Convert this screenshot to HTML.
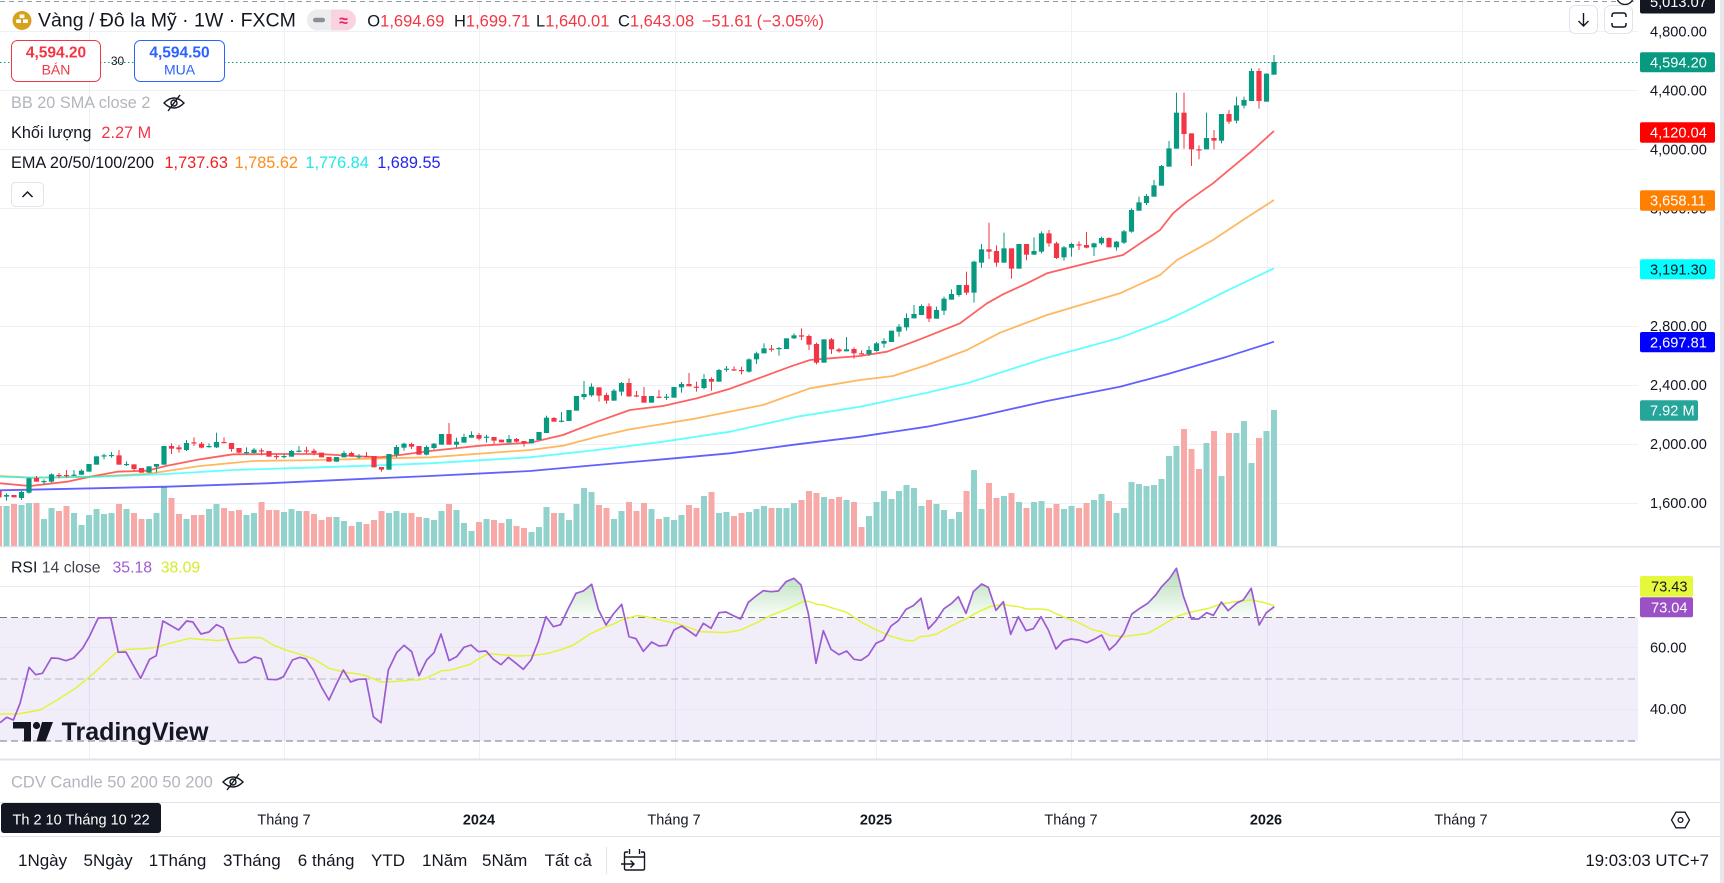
<!DOCTYPE html>
<html><head><meta charset="utf-8">
<style>
html,body{margin:0;padding:0;background:#fff;}
body{width:1724px;height:883px;overflow:hidden;}
svg{display:block;font-family:"Liberation Sans",Arial,sans-serif;}
</style></head><body>
<svg id="s" width="1724" height="883" viewBox="0 0 1724 883" xmlns="http://www.w3.org/2000/svg">
<defs>
<linearGradient id="gf" x1="0" y1="565" x2="0" y2="617" gradientUnits="userSpaceOnUse">
<stop offset="0" stop-color="#4caf50" stop-opacity="0.45"/>
<stop offset="1" stop-color="#4caf50" stop-opacity="0.03"/>
</linearGradient>
<clipPath id="c70"><rect x="0" y="540" width="1638" height="77.5"/></clipPath>
<clipPath id="cm"><rect x="0" y="0" width="1638" height="546"/></clipPath>
</defs>
<rect width="1724" height="883" fill="#fff"/>

<!-- grid -->
<g stroke="#eef0f5" stroke-width="1">
<line x1="0" y1="31.5" x2="1638" y2="31.5"/><line x1="0" y1="90.5" x2="1638" y2="90.5"/>
<line x1="0" y1="149.5" x2="1638" y2="149.5"/><line x1="0" y1="208.5" x2="1638" y2="208.5"/>
<line x1="0" y1="267.5" x2="1638" y2="267.5"/><line x1="0" y1="326.5" x2="1638" y2="326.5"/>
<line x1="0" y1="385.5" x2="1638" y2="385.5"/><line x1="0" y1="444.5" x2="1638" y2="444.5"/>
<line x1="0" y1="503.5" x2="1638" y2="503.5"/>
<line x1="89.5" y1="0" x2="89.5" y2="759"/><line x1="284.5" y1="0" x2="284.5" y2="759"/>
<line x1="479.5" y1="0" x2="479.5" y2="759"/><line x1="675.5" y1="0" x2="675.5" y2="759"/>
<line x1="876.5" y1="0" x2="876.5" y2="759"/><line x1="1071.5" y1="0" x2="1071.5" y2="759"/>
<line x1="1267.5" y1="0" x2="1267.5" y2="759"/><line x1="1462.5" y1="0" x2="1462.5" y2="759"/>
</g>
<!-- top dashed line -->
<line x1="0" y1="1.5" x2="1638" y2="1.5" stroke="#9598a1" stroke-width="1" stroke-dasharray="5 4"/>

<g id="vol" clip-path="url(#cm)"></g>
<g id="ema" clip-path="url(#cm)" fill="none"></g>
<g id="cdl" clip-path="url(#cm)"></g>
<line x1="0" y1="62.5" x2="1638" y2="62.5" stroke="#089981" stroke-width="1" stroke-dasharray="1.5 2.5"/>

<!-- RSI pane -->
<rect x="0" y="617.5" width="1638" height="123.5" fill="#7e57c2" fill-opacity="0.1"/>
<g stroke="#eae7f2" stroke-width="1">
<line x1="0" y1="586.5" x2="1638" y2="586.5"/><line x1="0" y1="647.5" x2="1638" y2="647.5"/><line x1="0" y1="709.5" x2="1638" y2="709.5"/>
</g>
<line x1="0" y1="617.5" x2="1638" y2="617.5" stroke="#787b86" stroke-dasharray="7 4"/>
<line x1="0" y1="679" x2="1638" y2="679" stroke="#b8bac2" stroke-dasharray="7 4"/>
<line x1="0" y1="741" x2="1638" y2="741" stroke="#787b86" stroke-dasharray="7 4"/>
<g id="rsi" fill="none"></g>

<!-- separators -->
<rect x="0" y="546" width="1720" height="1.5" fill="#e0e3eb"/>
<rect x="0" y="758.5" width="1720" height="2" fill="#e0e3eb"/>
<rect x="0" y="802" width="1720" height="1" fill="#e0e3eb"/>
<rect x="0" y="836" width="1720" height="1" fill="#e0e3eb"/>
<rect x="1720" y="0" width="4" height="883" fill="#e6e8ec"/>

<!-- header -->
<circle cx="22" cy="20.5" r="9.5" fill="#d6a21e"/>
<rect x="19.6" y="14.5" width="4.8" height="3.6" fill="#fff"/>
<rect x="16.2" y="19.4" width="4.8" height="3.6" fill="#fff"/>
<rect x="23" y="19.4" width="4.8" height="3.6" fill="#fff"/>
<text x="38" y="26.7" font-size="19.5" fill="#131722">Vàng / Đô la Mỹ · 1W · FXCM</text>
<rect x="307" y="9.5" width="49" height="21" rx="10.5" fill="#f9d3df"/>
<path d="M331 9.5 H317.5 A10.5 10.5 0 0 0 317.5 30.5 H331 Z" fill="#ececee"/>
<rect x="313" y="17.8" width="12" height="4.5" rx="2.2" fill="#8c8f99"/>
<text x="343.5" y="26" font-size="16" fill="#e0245e" text-anchor="middle" font-weight="bold">≈</text>
<g font-size="16.5">
<text x="367.3" y="26.7" fill="#131722">O<tspan fill="#f23645">1,694.69</tspan></text>
<text x="454" y="26.7" fill="#131722">H<tspan fill="#f23645">1,699.71</tspan></text>
<text x="536" y="26.7" fill="#131722">L<tspan fill="#f23645">1,640.01</tspan></text>
<text x="618" y="26.7" fill="#131722">C<tspan fill="#f23645">1,643.08</tspan></text>
<text x="701.8" y="26.7" fill="#f23645">−51.61</text>
<text x="756.6" y="26.7" fill="#f23645">(−3.05%)</text>
</g>

<!-- bid/ask -->
<rect x="11.5" y="40.5" width="89" height="41" rx="6" fill="#fff" stroke="#f23645"/>
<text x="56" y="57.5" font-size="15.5" font-weight="bold" fill="#f23645" text-anchor="middle">4,594.20</text>
<text x="56" y="74.5" font-size="14" fill="#f23645" text-anchor="middle">BÁN</text>
<text x="117.5" y="65" font-size="12" fill="#131722" text-anchor="middle">30</text>
<rect x="134.5" y="40.5" width="90" height="41" rx="6" fill="#fff" stroke="#2962ff"/>
<text x="179.5" y="57.5" font-size="15.5" font-weight="bold" fill="#2962ff" text-anchor="middle">4,594.50</text>
<text x="179.5" y="74.5" font-size="14" fill="#2962ff" text-anchor="middle">MUA</text>

<!-- legends -->
<g font-size="16.3">
<text x="11" y="108" fill="#b2b5be">BB 20 SMA close 2</text>
<text x="11" y="138" fill="#131722">Khối lượng</text>
<text x="101.4" y="138" fill="#f23645">2.27 M</text>
<text x="11" y="168" fill="#131722">EMA 20/50/100/200</text>
<text x="164.5" y="168" fill="#f21e1e">1,737.63</text>
<text x="234.6" y="168" fill="#ff8c1a">1,785.62</text>
<text x="305.4" y="168" fill="#1ee8e8">1,776.84</text>
<text x="377.2" y="168" fill="#2424f0">1,689.55</text>
</g>
<g fill="none" stroke="#131722" stroke-width="1.4">
<path d="M164 103 Q174 93 184 103 Q174 113 164 103 Z"/><circle cx="174" cy="103" r="3"/><line x1="168" y1="111" x2="180" y2="95"/>
</g>
<rect x="11.5" y="182.5" width="32" height="24" rx="4" fill="#fff" stroke="#e0e3eb"/>
<path d="M22.5 197 L27.5 192 L32.5 197" fill="none" stroke="#131722" stroke-width="1.5"/>

<!-- top right buttons -->
<circle cx="1625" cy="-4" r="8.5" fill="#fff" stroke="#131722" stroke-width="1.3"/>
<rect x="1569.5" y="5.5" width="28" height="28" rx="6" fill="#fff" stroke="#e0e3eb"/>
<path d="M1583.5 13 V26 M1578.5 21 L1583.5 26 L1588.5 21" fill="none" stroke="#131722" stroke-width="1.4"/>
<rect x="1604.5" y="5.5" width="28" height="28" rx="6" fill="#fff" stroke="#e0e3eb"/>
<path d="M1612 17 V15.5 Q1612 13 1614.5 13 H1623.5 Q1626 13 1626 15.5 V17 M1612 23 V24.5 Q1612 27 1614.5 27 H1623.5 Q1626 27 1626 24.5 V23" fill="none" stroke="#131722" stroke-width="1.5"/>

<!-- price axis -->
<g font-size="14.6" fill="#131722">
<text x="1650" y="36.7">4,800.00</text>
<text x="1650" y="95.6">4,400.00</text>
<text x="1650" y="154.5">4,000.00</text>
<text x="1650" y="213.4">3,600.00</text>
<text x="1650" y="272.3">3,200.00</text>
<text x="1650" y="331.2">2,800.00</text>
<text x="1650" y="390.1">2,400.00</text>
<text x="1650" y="449">2,000.00</text>
<text x="1650" y="507.9">1,600.00</text>
<text x="1650" y="652.6">60.00</text>
<text x="1650" y="714.2">40.00</text>
</g>
<g font-size="14.6">
<rect x="1640" y="-10" width="75" height="23.5" rx="2" fill="#131722"/><text x="1650" y="7" fill="#fff">5,013.07</text>
<rect x="1640" y="52.3" width="75" height="20" rx="2" fill="#089981"/><text x="1650" y="67.5" fill="#fff">4,594.20</text>
<rect x="1640" y="122.3" width="75" height="20.4" rx="2" fill="#ff0000"/><text x="1650" y="137.6" fill="#fff">4,120.04</text>
<rect x="1640" y="190.3" width="75" height="20.4" rx="2" fill="#ff8000"/><text x="1650" y="205.6" fill="#fff">3,658.11</text>
<rect x="1640" y="259.3" width="75" height="20" rx="2" fill="#00ffff"/><text x="1650" y="274.5" fill="#131722">3,191.30</text>
<rect x="1640" y="332" width="75" height="20.3" rx="2" fill="#0000ff"/><text x="1650" y="347.3" fill="#fff">2,697.81</text>
<rect x="1640" y="400.3" width="58" height="20.4" rx="2" fill="#26a69a"/><text x="1650" y="415.6" fill="#fff">7.92 M</text>
<rect x="1640" y="576" width="53" height="20.7" rx="2" fill="#e6f83c"/><text x="1651" y="591.5" fill="#131722">73.43</text>
<rect x="1640" y="597.3" width="53" height="20" rx="2" fill="#9c50c6"/><text x="1651" y="612.4" fill="#fff">73.04</text>
</g>

<!-- RSI legend -->
<g font-size="15.8">
<text x="11" y="572.3" fill="#131722">RSI <tspan fill="#434651">14 close</tspan></text>
<text x="112.5" y="572.3" fill="#9c5bd1">35.18</text>
<text x="160.7" y="572.3" fill="#d8ea2a">38.09</text>
</g>
<!-- TradingView logo -->
<g fill="#131722">
<path d="M13 722 H31 V741.5 H24 V728.5 H13 Z"/>
<circle cx="36.5" cy="725.5" r="3.6"/>
<path d="M42 722 H53 L45.5 741.5 H36.5 Z"/>
<text x="61.6" y="740" font-size="25" font-weight="bold">TradingView</text>
</g>

<!-- CDV -->
<text x="11" y="787.3" font-size="16.5" fill="#b2b5be">CDV Candle 50 200 50 200</text>
<g fill="none" stroke="#131722" stroke-width="1.4">
<path d="M223 782 Q233 772 243 782 Q233 792 223 782 Z"/><circle cx="233" cy="782" r="3"/><line x1="227" y1="790" x2="239" y2="774"/>
</g>

<!-- time axis -->
<rect x="1" y="803" width="160" height="30" rx="3" fill="#131722"/>
<text x="12.5" y="824.5" font-size="14.5" fill="#fff">Th 2 10 Tháng 10 '22</text>
<g font-size="14.5" fill="#131722" text-anchor="middle">
<text x="284" y="824.5">Tháng 7</text>
<text x="479" y="824.5" font-weight="bold">2024</text>
<text x="674" y="824.5">Tháng 7</text>
<text x="876" y="824.5" font-weight="bold">2025</text>
<text x="1071" y="824.5">Tháng 7</text>
<text x="1266" y="824.5" font-weight="bold">2026</text>
<text x="1461" y="824.5">Tháng 7</text>
</g>
<polygon points="1689.5,820 1685,827.8 1676,827.8 1671.5,820 1676,812.2 1685,812.2" fill="none" stroke="#131722" stroke-width="1.3"/>
<circle cx="1680.5" cy="820" r="2.4" fill="none" stroke="#131722" stroke-width="1.3"/>

<!-- toolbar -->
<g font-size="17" fill="#131722">
<text x="18" y="866">1Ngày</text>
<text x="83.5" y="866">5Ngày</text>
<text x="148.7" y="866">1Tháng</text>
<text x="223" y="866">3Tháng</text>
<text x="297.8" y="866">6 tháng</text>
<text x="371" y="866">YTD</text>
<text x="422" y="866">1Năm</text>
<text x="482" y="866">5Năm</text>
<text x="544.6" y="866">Tất cả</text>
<text x="1709" y="866" text-anchor="end" font-size="16.8">19:03:03 UTC+7</text>
</g>
<line x1="606.5" y1="847" x2="606.5" y2="874" stroke="#e0e3eb"/>
<g fill="none" stroke="#131722" stroke-width="1.4">
<path d="M628 852 H626 Q624.5 852 624.5 853.5 V868.5 Q624.5 870 626 870 H643 Q644.5 870 644.5 868.5 V853.5 Q644.5 852 643 852 H641"/>
<line x1="624.5" y1="857" x2="644.5" y2="857"/>
<line x1="629.5" y1="849" x2="629.5" y2="854"/><line x1="639.5" y1="849" x2="639.5" y2="854"/>
<path d="M621 864 H634 M630.5 860.5 L634 864 L630.5 867.5"/>
</g>
</svg>
<script>
(function(){
var NS="http://www.w3.org/2000/svg";
function mk(tag,a,p){var e=document.createElementNS(NS,tag);for(var k in a)e.setAttribute(k,a[k]);p.appendChild(e);return e;}
var C5=[[0,333,352,333,352],[1,345,350,340,362],[0,345,352,345,352],[1,336,354,332,360],[1,295,338,293,341],[0,294,305,288,305],[1,303,303,298,314],[1,283,305,280,308],[0,285,285,279,295],[0,285,285,270,293],[1,284,284,270,288],[1,272,284,268,285],[1,252,275,252,275],[1,229,254,229,254],[1,226,226,221,238],[1,225,225,216,233],[0,226,254,210,254],[1,252,252,244,258],[0,253,267,253,272],[0,264,278,264,278],[1,259,278,259,278],[1,252,260,252,278],[1,198,254,198,254],[0,198,206,190,222],[0,202,208,195,218],[1,189,210,180,213],[0,187,187,172,198],[0,191,203,186,205],[1,198,198,190,203],[1,186,202,158,204],[0,186,186,172,190],[0,189,207,189,215],[0,204,218,204,220],[1,216,216,202,224],[1,209,219,204,220],[0,211,211,205,226],[0,213,230,213,230],[0,228,228,222,238],[1,228,228,222,235],[1,213,230,210,230],[1,212,212,198,217],[0,211,211,200,220],[0,212,219,206,226],[0,218,232,218,232],[0,231,245,231,245],[1,231,245,231,245],[1,219,232,212,232],[0,219,229,215,230],[1,229,229,222,236],[0,228,228,216,230],[0,228,262,228,262],[0,261,269,261,275],[1,222,269,222,269],[1,201,224,195,232],[1,191,203,188,212],[0,192,200,188,207],[0,198,224,198,224],[1,201,224,196,226]];
var C6=[[1,521,534,519,538],[1,492,524,492,524],[0,492,524,459,524],[1,515,524,503,532],[1,501,518,491,518],[1,495,503,484,503],[0,495,506,489,511],[1,500,500,494,518],[0,501,512,501,522],[0,509,517,509,517],[1,507,518,495,518],[0,507,515,504,517],[0,513,520,513,530],[1,507,520,507,520],[1,486,510,486,510],[1,443,489,437,489],[0,444,455,441,455],[1,452,452,426,457],[1,420,453,420,453],[1,378,422,378,422],[1,372,381,333,389],[1,350,376,340,380],[0,352,377,352,395],[0,375,392,368,401],[1,362,392,357,392],[1,339,365,336,377],[0,339,379,325,381],[0,376,376,363,381],[0,378,398,351,398],[1,378,398,378,398],[0,380,380,360,385],[1,380,380,372,390],[1,351,383,351,383],[1,342,352,336,368],[0,342,349,309,349],[0,350,350,335,365],[1,327,354,312,358],[0,327,335,322,362],[1,300,335,297,335],[1,296,296,288,305],[0,298,298,289,303],[0,300,300,290,313],[1,268,305,265,308],[1,250,268,245,282],[1,235,250,220,250],[0,236,236,225,245],[1,234,234,231,257],[1,205,237,205,237],[1,196,205,190,207],[0,196,200,175,210],[0,198,224,193,240],[0,222,278,218,283],[1,208,278,208,278],[0,208,238,204,252],[0,238,244,234,248],[1,238,244,201,244],[0,237,250,232,266],[0,250,250,241,253]];
var C7=[[1,930,942,918,948],[1,910,933,906,935],[1,903,911,895,923],[1,872,906,872,906],[1,860,875,852,890],[1,834,862,820,872],[1,822,835,795,835],[1,798,825,793,825],[0,799,836,790,846],[1,810,836,800,836],[1,776,812,770,825],[1,762,779,748,779],[1,735,765,735,770],[0,735,758,695,765],[1,665,758,662,788],[1,628,668,612,683],[0,628,635,548,657],[0,633,668,616,680],[1,625,668,578,668],[0,625,686,625,716],[1,612,686,612,686],[0,612,644,612,661],[1,633,644,592,644],[1,580,635,574,640],[0,580,610,570,620],[0,610,654,605,657],[1,622,652,618,662],[1,612,623,608,650],[0,613,613,604,630],[0,615,623,576,625],[1,610,622,608,648],[1,594,610,590,615],[0,594,622,592,622],[1,605,622,603,632],[1,574,608,570,612],[1,510,575,505,578],[1,487,512,470,512],[1,468,489,462,495],[1,436,470,420,470],[1,378,437,375,437],[1,325,380,303,380],[1,218,326,158,326],[0,218,282,158,326],[0,280,328,280,378],[0,328,328,316,358],[1,294,328,218,328],[0,294,302,270,328],[1,222,302,222,310],[0,222,245,210,252],[1,196,242,170,250],[1,180,197,170,205],[1,93,183,85,183],[0,93,183,85,206],[1,101,185,100,185],[1,66,104,45,104]];
var V5=[378,378,372,375,369,369,417,384,393,378,399,435,405,387,402,399,372,387,399,417,417,399,321,354,402,417,405,405,387,372,384,393,390,405,399,366,390,390,396,387,393,393,402,420,411,411,423,438,426,432,420,393,399,393,399,399,411,414];
var V6=[750,723,702,720,759,783,756,747,750,759,747,768,774,786,771,711,729,729,750,702,654,666,705,714,747,723,696,723,699,717,747,741,750,735,705,714,678,666,729,726,738,729,726,717,708,714,714,714,699,690,663,669,681,687,681,690,696,771];
var V7=[1428,1386,1353,1377,1353,1335,1344,1398,1380,1392,1410,1437,1416,1353,1290,1407,1329,1374,1368,1359,1386,1404,1386,1383,1404,1392,1407,1398,1404,1389,1380,1362,1383,1419,1404,1326,1332,1338,1335,1317,1248,1218,1167,1227,1287,1209,1173,1308,1179,1179,1143,1269,1194,1173,1110];
var cd=[],vv=[];
function addC(arr,off){arr.forEach(function(c){cd.push([c[0],off+c[1]/3,off+c[2]/3,off+c[3]/3,off+c[4]/3]);});}
addC(C5,380);addC(C6,270);addC(C7,40);
V5.forEach(function(v){vv.push(380+v/3);});V6.forEach(function(v){vv.push(270+v/3);});V7.forEach(function(v){vv.push(40+v/3);});
var gV=document.getElementById('vol'),gC=document.getElementById('cdl');
for(var i=0;i<cd.length;i++){
 var x=-1+7.5*i,c=cd[i];
 var up=c[0]===1;
 if(i<vv.length){var t=vv[i];mk('rect',{x:x-3,y:t,width:6,height:Math.max(0,546-t),fill:up?'#92d2cc':'#f7a9a7'},gV);}
 var col=up?'#089981':'#f23645';
 mk('rect',{x:x-0.5,y:c[3],width:1,height:Math.max(1,c[4]-c[3]),fill:col},gC);
 mk('rect',{x:x-2.6,y:c[1],width:5.2,height:Math.max(1.2,c[2]-c[1]),fill:col},gC);
}
function pl(a){var s=[];for(var i=0;i<a.length;i+=2)s.push(a[i]+','+a[i+1]);return s.join(' ');}
var gE=document.getElementById('ema');
var E=[
['#ff0000',[0,483.3,30,486,67,481.7,90,476.7,117,471.7,147,470.7,167,465.7,200,459.3,233,454.3,283,454,320,454,353,456,380,457.3,400,455,430,451,480,445.7,530,442.7,563,435,597,421.7,630,410,663,406,697,398.3,730,388.7,763,376.7,790,366.7,810,360,830,358.3,860,356,887,351.7,920,339.3,960,323.3,987,303.3,1003,294.3,1027,283.3,1047,273.3,1093,261.7,1123,255,1160,230,1173,213.3,1187,201.7,1213,183.3,1243,158.3,1253,150,1274,131]],
['#ff8c00',[0,476,33,477.7,90,476.7,147,474,200,466,253,461,320,460,387,458.3,430,457.3,530,450,563,445.7,597,436.7,630,429.3,697,418.3,763,405,810,388.3,860,380,893,376,927,365,967,350,1000,332.7,1047,315,1120,293.3,1160,275,1177,260,1213,240,1243,220,1274,200]],
['#00ffff',[0,476.7,33,477.7,100,476.7,167,474,233,470,320,467.3,387,465,430,463.3,530,457.3,597,450,663,441.7,730,431.7,797,416.7,860,406.7,927,392.7,967,383.3,1047,357.7,1120,337.7,1167,320,1187,310.7,1227,290.7,1274,268.3]],
['#0000ff',[0,490.3,167,486.7,267,483.3,367,478.7,430,476,530,471,597,465,663,459.3,730,453.3,797,444.3,860,436.7,927,426.7,977,416.7,1047,401,1120,386.7,1167,374.3,1227,356.7,1274,341.7]]];
E.forEach(function(e){mk('polyline',{points:pl(e[1]),stroke:e[0],'stroke-width':1.8,'stroke-opacity':0.62,'stroke-linejoin':'round'},gE);});
// RSI
function tr(list,fx,fy){var o=[];for(var i=0;i<list.length;i+=2){o.push(fx(list[i]),fy(list[i+1]));}return o;}
var f4x=function(v){return v/2.24;},f4y=function(v){return 540+v/3;};
var f9x=function(v){return 300+v/3;},f8x=function(v){return 690+v/3;},fy560=function(v){return 560+v/3;};
var f3x=function(v){return 1100+v/2.513;};
var R4=[0,548,15,532,30,540,45,490,65,382,80,404,95,400,115,354,130,355,148,362,165,354,185,325,200,290,220,234,248,233,265,337,282,336,315,415,335,358,350,347,365,243,400,270,418,243,432,246,450,282,468,276,485,254,500,264,518,325,535,368,550,367,570,351,585,356,600,418,620,419,635,410,655,360,672,352];
var R9=[18,297,40,330,65,382,87,420,108,375,130,330,152,366,175,358,198,357,220,470,243,488,265,330,290,278,312,256,335,275,357,347,380,300,402,278,423,222,447,302,470,290,492,262,513,255,535,275,558,273,580,298,603,314,625,292,648,310,670,328,693,300,715,245,738,170,760,200,782,194,805,145,828,100,850,93,875,73,895,148,918,195,940,162,965,133,987,230,1008,236,1030,274,1055,246,1077,258,1100,256,1122,210,1145,198,1167,213];
var R8=[18,228,40,190,63,205,87,158,108,156,130,167,152,177,175,127,198,108,220,92,243,95,265,93,288,65,312,55,333,75,355,160,378,310,400,212,423,268,447,284,470,273,492,298,513,301,535,286,558,250,580,240,603,198,625,182,648,148,670,137,693,115,715,207,738,182,762,146,785,130,805,110,828,160,850,95,875,72,895,82,918,151,940,125,962,223,985,170,1008,212,1030,206,1053,170,1075,210,1098,267,1120,243,1143,237,1167,240,1190,248,1212,238,1235,225,1258,270];
var R3=[40,312,60,280,80,222,100,205,120,190,140,165,155,140,175,115,192,85,210,170,230,237,248,237,268,218,285,226,305,186,322,212,345,188,360,180,380,145,400,255,418,218,438,200];
var Y4=[0,522,40,522,90,510,130,478,170,444,210,400,240,362,260,338,285,328,320,326,350,322,380,310,425,295,450,298,490,302,520,296,550,293,585,293,610,314,640,330,665,340];
var Y9=[40,296,87,325,130,336,175,342,200,348,243,366,290,364,335,360,357,360,380,354,425,332,447,331,470,325,513,312,535,297,565,281,600,284,650,288,700,286,740,281,780,270,820,255,870,222,910,203,940,192,965,180,1010,167,1040,170,1080,180,1130,190,1165,202];
var Y8=[30,215,108,218,152,210,200,188,245,165,290,148,340,124,355,124,380,133,400,135,430,145,470,157,520,190,560,210,600,228,650,242,672,242,690,230,715,228,740,222,780,200,830,175,870,153,900,140,940,133,960,137,985,140,1010,147,1053,147,1075,150,1100,162,1130,175,1160,185,1210,210,1235,215,1258,226];
var Y3=[30,287,60,290,120,280,150,260,195,228,230,216,270,206,305,192,340,185,380,180,410,187,438,197];
var R=[].concat(tr(R4,f4x,f4y),tr(R9,f9x,fy560),tr(R8,f8x,fy560),tr(R3,f3x,f4y));
var Y=[].concat(tr(Y4,f4x,f4y),tr(Y9,f9x,fy560),tr(Y8,f8x,fy560),tr(Y3,f3x,f4y));
var gR=document.getElementById('rsi');
var d='M'+R[0]+' 617.5';for(var j=0;j<R.length;j+=2)d+=' L'+R[j]+' '+R[j+1];d+=' L'+R[R.length-2]+' 617.5 Z';
mk('path',{d:d,fill:'url(#gf)','clip-path':'url(#c70)',stroke:'none'},gR);
mk('polyline',{points:pl(Y),stroke:'#e4f33a','stroke-width':1.5,'stroke-linejoin':'round'},gR);
mk('polyline',{points:pl(R),stroke:'#9c5bd1','stroke-width':1.7,'stroke-linejoin':'round'},gR);
})();
</script>
</body></html>
